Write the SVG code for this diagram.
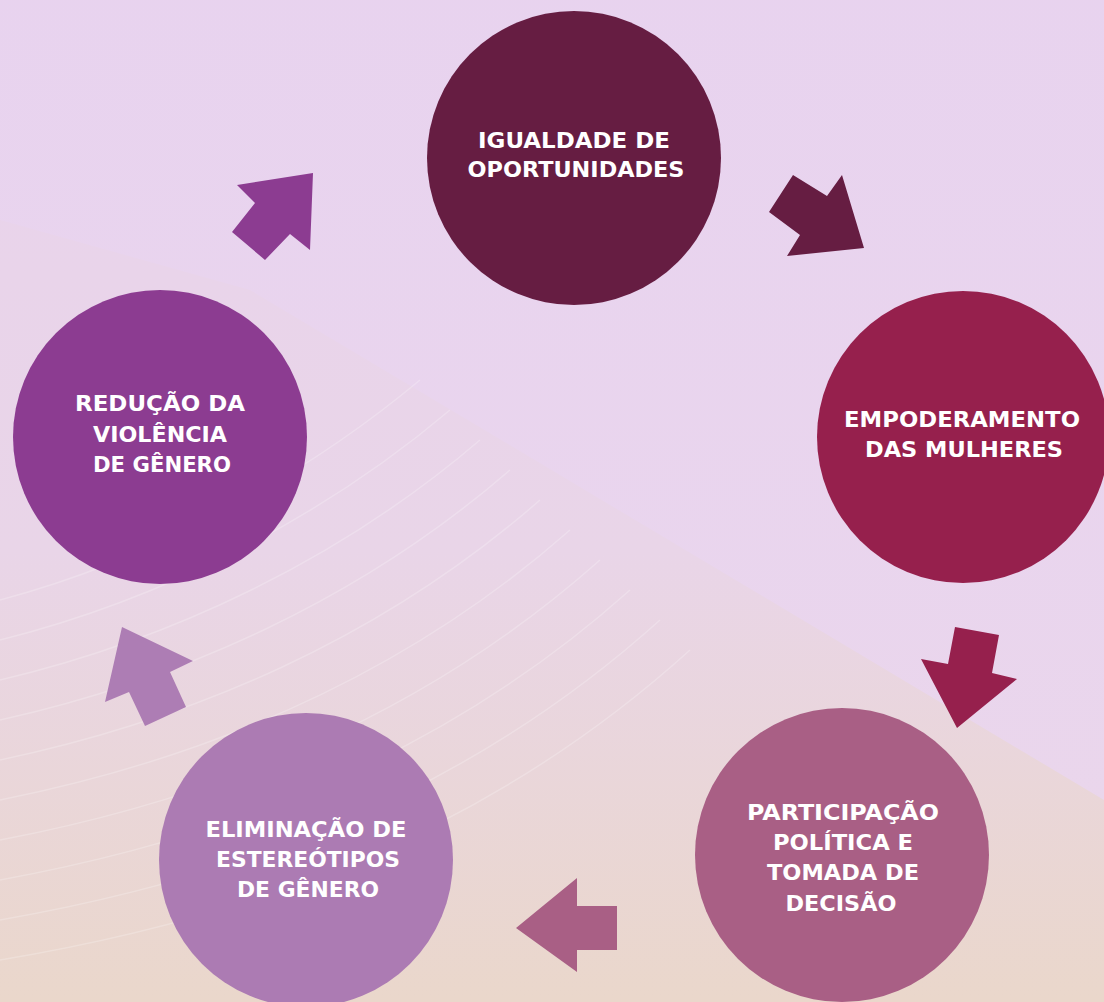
<svg xmlns="http://www.w3.org/2000/svg" width="1104" height="1002" viewBox="0 0 1104 1002">
<defs>
<linearGradient id="bg" x1="0" y1="0" x2="0" y2="1">
<stop offset="0" stop-color="#e9d3ec"/>
<stop offset="0.55" stop-color="#e9d5e8"/>
<stop offset="1" stop-color="#ead7cb"/>
</linearGradient>
<linearGradient id="tri" x1="0" y1="0" x2="0" y2="1">
<stop offset="0" stop-color="#e8d3ef"/>
<stop offset="1" stop-color="#ead6ee"/>
</linearGradient>
<style>
.lbl{font-family:"DejaVu Sans","Open Sans",sans-serif;font-weight:700;font-size:21px;fill:#ffffff;text-anchor:middle}
.wave{fill:none;stroke:#ffffff;stroke-opacity:0.22;stroke-width:1.5}
</style>
</defs>
<rect width="1104" height="1002" fill="url(#bg)"/>
<polygon points="0,0 1104,0 1104,800 250,290 0,220" fill="url(#tri)" opacity="0.9"/>
<g id="waves">
<path class="wave" d="M0,600 C150,560 300,480 420,380"/>
<path class="wave" d="M0,640 C160,600 320,520 450,410"/>
<path class="wave" d="M0,680 C170,640 340,560 480,440"/>
<path class="wave" d="M0,720 C180,680 360,600 510,470"/>
<path class="wave" d="M0,760 C190,720 380,640 540,500"/>
<path class="wave" d="M0,800 C200,760 400,680 570,530"/>
<path class="wave" d="M0,840 C210,800 420,720 600,560"/>
<path class="wave" d="M0,880 C220,840 440,760 630,590"/>
<path class="wave" d="M0,920 C230,880 460,800 660,620"/>
<path class="wave" d="M0,960 C240,920 480,840 690,650"/>
</g>
<g id="connectors">
<polygon points="793,175 827,196 842,175 864,248 787,256 800,235 769,212" fill="#661d42"/>
<polygon points="955,627 999,635 992,673 1017,679 957,728 921,659 948,664" fill="#96204d"/>
<polygon points="516,928 577,878 577,906 617,906 617,950 577,950 577,972" fill="#a95f85"/>
<polygon points="122,627 193,661 170,672 186,707 145,726 129,692 105,702" fill="#ad7db4"/>
<polygon points="313,173 310,250 290,234 265,260 232,232 255,203 237,185" fill="#8c3c91"/>
</g>
<g id="node-igualdade">
<circle cx="574" cy="158" r="147" fill="#661d42"/>
<text class="lbl" x="574" y="148" textLength="192" lengthAdjust="spacingAndGlyphs">IGUALDADE DE</text>
<text class="lbl" x="576" y="177" textLength="217" lengthAdjust="spacingAndGlyphs">OPORTUNIDADES</text>
</g>
<g id="node-empoderamento">
<circle cx="963" cy="437" r="146" fill="#96204d"/>
<text class="lbl" x="962" y="427" textLength="236" lengthAdjust="spacingAndGlyphs">EMPODERAMENTO</text>
<text class="lbl" x="964" y="457" textLength="198" lengthAdjust="spacingAndGlyphs">DAS MULHERES</text>
</g>
<g id="node-participacao">
<circle cx="842" cy="855" r="147" fill="#a95f85"/>
<text class="lbl" x="843" y="820" textLength="192" lengthAdjust="spacingAndGlyphs">PARTICIPAÇÃO</text>
<text class="lbl" x="843" y="850" textLength="140" lengthAdjust="spacingAndGlyphs">POLÍTICA E</text>
<text class="lbl" x="843" y="880" textLength="152" lengthAdjust="spacingAndGlyphs">TOMADA DE</text>
<text class="lbl" x="841" y="911" textLength="111" lengthAdjust="spacingAndGlyphs">DECISÃO</text>
</g>
<g id="node-eliminacao">
<circle cx="306" cy="860" r="147" fill="#ac7bb3"/>
<text class="lbl" x="306" y="837" textLength="201" lengthAdjust="spacingAndGlyphs">ELIMINAÇÃO DE</text>
<text class="lbl" x="308" y="867" textLength="184" lengthAdjust="spacingAndGlyphs">ESTEREÓTIPOS</text>
<text class="lbl" x="308" y="897" textLength="142" lengthAdjust="spacingAndGlyphs">DE GÊNERO</text>
</g>
<g id="node-reducao">
<circle cx="160" cy="437" r="147" fill="#8c3c91"/>
<text class="lbl" x="160" y="411" textLength="170" lengthAdjust="spacingAndGlyphs">REDUÇÃO DA</text>
<text class="lbl" x="160" y="442" textLength="134" lengthAdjust="spacingAndGlyphs">VIOLÊNCIA</text>
<text class="lbl" x="162" y="472" textLength="138" lengthAdjust="spacingAndGlyphs">DE GÊNERO</text>
</g>
</svg>
